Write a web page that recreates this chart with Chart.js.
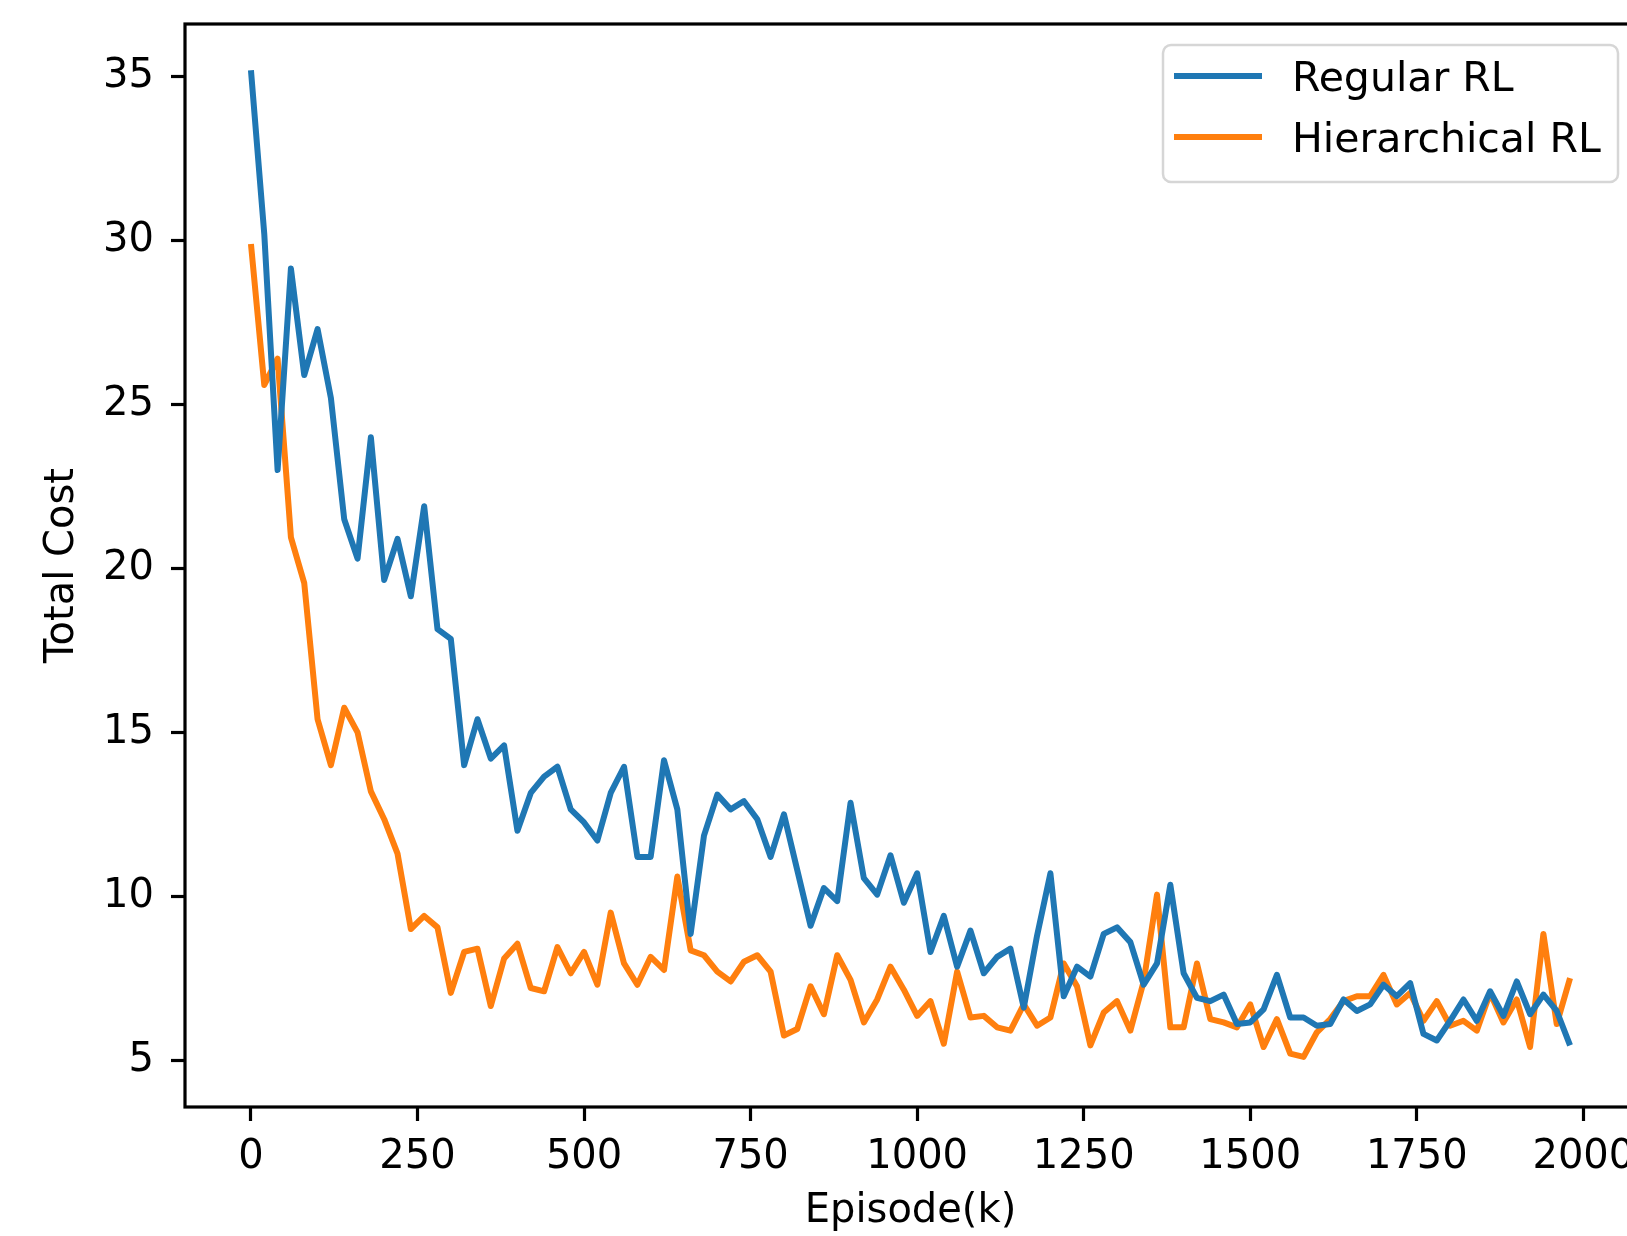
<!DOCTYPE html>
<html><head><meta charset="utf-8">
<script src="https://cdn.jsdelivr.net/npm/chart.js@4.4.1/dist/chart.umd.min.js"></script>
<style>
html,body{margin:0;padding:0;overflow:hidden;background:#fff;width:1627px;height:1236px}
#wrap{position:absolute;left:0;top:0;width:1640px;height:1236px}
</style></head>
<body><div id="wrap"><canvas id="c" width="1640" height="1236"></canvas></div>
<script>
const episodes = [0,20,40,60,80,100,120,140,160,180,200,220,240,260,280,300,320,340,360,380,
  400,420,440,460,480,500,520,540,560,580,600,620,640,660,680,700,720,740,760,780,
  800,820,840,860,880,900,920,940,960,980,1000,1020,1040,1060,1080,1100,1120,1140,1160,1180,
  1200,1220,1240,1260,1280,1300,1320,1340,1360,1380,1400,1420,1440,1460,1480,1500,1520,1540,1560,1580,
  1600,1620,1640,1660,1680,1700,1720,1740,1760,1780,1800,1820,1840,1860,1880,1900,1920,1940,1960,1980];
const regularRL = [35.2,30.2,23.0,29.15,25.9,27.3,25.2,21.5,20.3,24.0,
  19.65,20.9,19.15,21.9,18.15,17.85,14.0,15.4,14.2,14.6,
  12.0,13.15,13.65,13.95,12.65,12.25,11.7,13.15,13.95,11.2,
  11.2,14.15,12.65,8.85,11.85,13.1,12.65,12.9,12.35,11.2,
  12.5,10.8,9.1,10.25,9.85,12.85,10.55,10.05,11.25,9.8,
  10.7,8.3,9.4,7.85,8.95,7.65,8.15,8.4,6.6,8.8,
  10.7,6.95,7.85,7.55,8.85,9.05,8.6,7.3,7.95,10.35,
  7.65,6.9,6.8,7.0,6.1,6.15,6.55,7.6,6.3,6.3,
  6.05,6.1,6.85,6.5,6.7,7.3,6.95,7.35,5.8,5.6,
  6.2,6.85,6.2,7.1,6.35,7.4,6.4,7.0,6.5,5.45];
const hierarchicalRL = [29.9,25.6,26.4,20.95,19.55,15.4,14.0,15.75,15.0,13.2,
  12.35,11.3,9.0,9.4,9.05,7.05,8.3,8.4,6.65,8.1,
  8.55,7.2,7.1,8.45,7.65,8.3,7.3,9.5,7.95,7.3,
  8.15,7.75,10.6,8.35,8.2,7.7,7.4,8.0,8.2,7.7,
  5.75,5.95,7.25,6.4,8.2,7.45,6.15,6.85,7.85,7.15,
  6.35,6.8,5.5,7.7,6.3,6.35,6.0,5.9,6.7,6.05,
  6.3,7.95,7.25,5.45,6.45,6.8,5.9,7.4,10.05,6.0,
  6.0,7.95,6.25,6.15,6.0,6.7,5.4,6.25,5.2,5.1,
  5.85,6.25,6.8,6.95,6.95,7.6,6.7,7.05,6.2,6.8,
  6.05,6.2,5.9,7.05,6.15,6.85,5.4,8.85,6.1,7.5];
const xTickValues = [0,250,500,750,1000,1250,1500,1750,2000];
const yTickValues = [5,10,15,20,25,30,35];
const seriesLabels = ['Regular RL','Hierarchical RL'];
const seriesColors = ['#1f77b4','#ff7f0e'];
const xTitle = 'Episode(k)';
const yTitle = 'Total Cost';

const FONT = "'DejaVu Sans', 'Liberation Sans', sans-serif";

const toPoints = ys => episodes.map((e,i)=>({x:e, y:ys[i]}));

const noPad = s => { s.paddingTop = 0; s.paddingBottom = 0; s.paddingLeft = 0; s.paddingRight = 0; };

const spinesPlugin = {
  id:'spines',
  afterDatasetsDraw(chart){
    const {ctx, chartArea:a} = chart;
    ctx.save();
    ctx.strokeStyle = '#000';
    ctx.lineWidth = 3.2;
    ctx.strokeRect(a.left, a.top, a.right-a.left, a.bottom-a.top);
    ctx.restore();
  }
};

const legendPlugin = {
  id:'mplLegend',
  afterDraw(chart){
    const ctx = chart.ctx;
    const x = 1163, y = 45, w = 455, h = 137, r = 8;
    ctx.save();
    ctx.beginPath();
    ctx.moveTo(x+r,y); ctx.lineTo(x+w-r,y); ctx.arcTo(x+w,y,x+w,y+r,r);
    ctx.lineTo(x+w,y+h-r); ctx.arcTo(x+w,y+h,x+w-r,y+h,r);
    ctx.lineTo(x+r,y+h); ctx.arcTo(x,y+h,x,y+h-r,r);
    ctx.lineTo(x,y+r); ctx.arcTo(x,y,x+r,y,r); ctx.closePath();
    ctx.fillStyle = 'rgba(255,255,255,0.8)';
    ctx.fill();
    ctx.strokeStyle = '#d6d6d6';
    ctx.lineWidth = 2.5;
    ctx.stroke();
    const rowsY = [76, 137];
    const baseY = [90.7, 151.7];
    chart.data.datasets.forEach((ds,i)=>{
      ctx.beginPath();
      ctx.strokeStyle = ds.borderColor;
      ctx.lineWidth = 6;
      ctx.lineCap = 'butt';
      ctx.moveTo(1174, rowsY[i]); ctx.lineTo(1262, rowsY[i]);
      ctx.stroke();
      ctx.fillStyle = '#000';
      ctx.font = '41px ' + FONT;
      ctx.textBaseline = 'alphabetic';
      ctx.textAlign = 'left';
      ctx.fillText(ds.label, 1292, baseY[i]);
    });
    ctx.restore();
  }
};

new Chart(document.getElementById('c'), {
  type:'line',
  data:{
    datasets:[
      {label:seriesLabels[0], data:toPoints(regularRL), borderColor:seriesColors[0], backgroundColor:seriesColors[0],
       borderWidth:6, pointRadius:0, tension:0, fill:false, borderJoinStyle:'round'},
      {label:seriesLabels[1], data:toPoints(hierarchicalRL), borderColor:seriesColors[1], backgroundColor:seriesColors[1],
       borderWidth:6, pointRadius:0, tension:0, fill:false, borderJoinStyle:'round'}
    ]
  },
  options:{
    responsive:false,
    devicePixelRatio:1,
    animation:false,
    layout:{padding:{left:0, top:24, right:4, bottom:0}},
    plugins:{legend:{display:false}, tooltip:{enabled:false}},
    scales:{
      x:{
        type:'linear', min:-99, max:2079,
        afterBuildTicks:s=>{ s.ticks = xTickValues.map(v=>({value:v})); },
        afterFit:s=>{ s.height = 129; noPad(s); },
        border:{display:false},
        grid:{drawOnChartArea:false, drawTicks:true, tickLength:14, tickWidth:3.2, tickColor:'#000'},
        ticks:{color:'#000', font:{family:FONT, size:40}, padding:13, maxRotation:0, autoSkip:false,
               callback:v=>String(v)},
        title:{display:true, text:xTitle, color:'#000', font:{family:FONT, size:40}, padding:{top:0,bottom:0}}
      },
      y:{
        type:'linear', min:3.57, max:36.61,
        afterBuildTicks:s=>{ s.ticks = yTickValues.map(v=>({value:v})); },
        afterFit:s=>{ s.width = 185; noPad(s); },
        border:{display:false},
        grid:{drawOnChartArea:false, drawTicks:true, tickLength:14, tickWidth:3.2, tickColor:'#000'},
        ticks:{color:'#000', font:{family:FONT, size:40}, padding:17, autoSkip:false,
               callback:v=>String(v)},
        title:{display:true, text:yTitle, color:'#000', font:{family:FONT, size:40}, padding:{top:39,bottom:0}}
      }
    }
  },
  plugins:[spinesPlugin, legendPlugin]
});
</script>
</body></html>
